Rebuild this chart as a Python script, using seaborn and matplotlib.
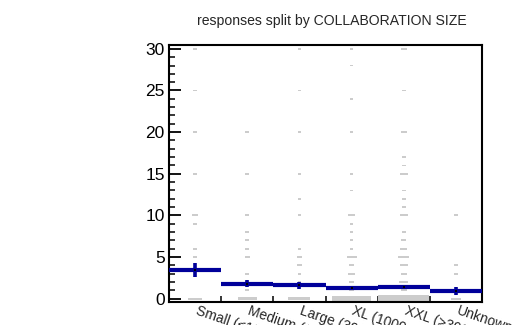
import numpy as np
import pandas as pd
import matplotlib
matplotlib.use("Agg")
import matplotlib.pyplot as plt
import seaborn as sns

# ---- data ----
categories = ["Small (\u226410 authors)", "Medium (10-300)", "Large (300-1000)",
              "XL (1000 and up)", "XXL (>3000)", "Unknown"]

small_vals = [0, 5, 6, 9, 10, 15, 20, 25, 30]
small_cnt = [14, 1, 1, 1, 2, 1, 1, 1, 1]

medium_vals = [0, 1, 2, 3, 5, 6, 7, 8, 10, 15, 20]
medium_cnt = [25, 1, 1, 1, 2, 1, 1, 1, 1, 1, 1]

large_vals = [0, 2, 3, 4, 5, 6, 10, 12, 15, 20, 25, 30]
large_cnt = [35, 1, 1, 2, 2, 1, 1, 1, 1, 1, 1, 1]

xl_vals = [0, 1, 2, 3, 4, 5, 6, 7, 8, 9, 10, 13, 15, 20, 24, 28, 30]
xl_cnt = [105, 2, 2, 3, 2, 7, 1, 1, 1, 1, 3, 1, 1, 1, 1, 1, 1]

xxl_vals = [0, 1, 2, 3, 4, 5, 6, 7, 8, 10, 11, 12, 13, 15, 16, 17, 20, 25, 30]
xxl_cnt = [190, 3, 6, 3, 5, 9, 4, 2, 1, 5, 1, 1, 1, 5, 1, 1, 3, 1, 3]

unknown_vals = [0, 3, 4, 10]
unknown_cnt = [8, 1, 1, 1]

means = [3.4, 1.8, 1.6, 1.28, 1.36, 0.92]
errors = [0.84, 0.44, 0.44, 0.12, 0.12, 0.52]

title = "responses split by COLLABORATION SIZE"
yticks = [0, 5, 10, 15, 20, 25, 30]

# ---- build table ----
all_vals = [small_vals, medium_vals, large_vals, xl_vals, xxl_vals, unknown_vals]
all_cnt = [small_cnt, medium_cnt, large_cnt, xl_cnt, xxl_cnt, unknown_cnt]
rows = []
for i, (vs, cs) in enumerate(zip(all_vals, all_cnt)):
    for v, c in zip(vs, cs):
        rows.append({"pos": i, "category": categories[i], "value": v, "count": c})
df = pd.DataFrame(rows)
cmax = df["count"].max()
df["frac"] = np.sqrt(df["count"] / cmax) * 0.985
df["h"] = np.maximum(df["frac"], 0.22)

mdf = pd.DataFrame({"pos": np.arange(len(categories)), "mean": means, "err": errors})

# ---- plot ----
sns.set_style("white")
plt.rcParams["font.family"] = ["Liberation Sans", "DejaVu Sans"]

fig = plt.figure(figsize=(5.29, 3.25), dpi=100)
ax = fig.add_axes([169 / 529, 1 - 302 / 325, (482 - 169) / 529, (302 - 44.7) / 325])

ax.bar(df["pos"], df["h"], bottom=df["value"] - df["h"] / 2, width=df["frac"],
       color="#cccccc", linewidth=0, zorder=1)

blue = "#00009a"
ax.hlines(mdf["mean"], mdf["pos"] - 0.5, mdf["pos"] + 0.5, color=blue, lw=3.0, zorder=3)
ax.vlines(mdf["pos"], mdf["mean"] - mdf["err"], mdf["mean"] + mdf["err"],
          color=blue, lw=2.6, zorder=3)
sns.scatterplot(data=mdf, x="pos", y="mean", ax=ax, color="black", marker="s",
                s=4, linewidth=0, zorder=4, legend=False)

ax.set_xlim(-0.5, len(categories) - 0.5)
ax.set_ylim(-0.4, 30.5)
ax.set_xlabel("")
ax.set_ylabel("")

# y ticks
ax.set_yticks(yticks)
ax.set_yticklabels([str(t) for t in yticks], fontsize=12.5)
ax.set_yticks(np.arange(0, 31, 1), minor=True)
ax.tick_params(axis="y", which="major", direction="in", length=8.5, width=1.3,
               left=True, right=False, pad=3, colors="black")
ax.tick_params(axis="y", which="minor", direction="in", length=4.5, width=1.3,
               left=True, right=False)

# x ticks: boundaries (major, unlabeled) + labels at centres
ax.set_xticks(np.arange(0.5, len(categories) - 0.5, 1))
ax.set_xticklabels([])
ax.tick_params(axis="x", which="major", direction="in", length=4.5, width=1.3,
               bottom=True, top=False)
for i, lab in enumerate(categories):
    ax.annotate(lab, xy=(i, 0), xycoords=("data", "axes fraction"),
                xytext=(2.5, -1.0), textcoords="offset points",
                rotation=-19, rotation_mode="anchor", ha="left", va="top",
                fontsize=10, annotation_clip=False)

for s in ax.spines.values():
    s.set_linewidth(1.5)
    s.set_color("black")
    s.set_visible(True)

fig.text(332 / 529, 1 - 21 / 325, title, ha="center", va="center", fontsize=10.1)

fig.savefig("out.png", dpi=100)
